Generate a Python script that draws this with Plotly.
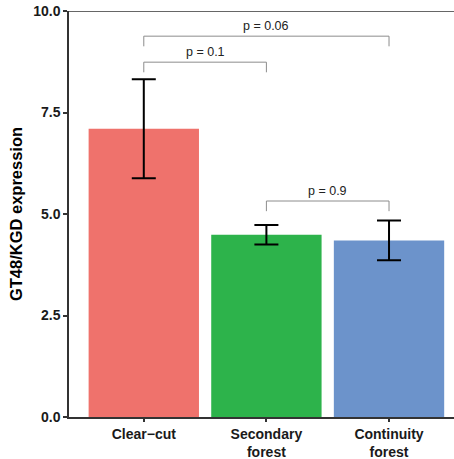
import plotly.graph_objects as go

# Group means and error bar half-widths
groups = ["Clear\u2212cut", "Secondary<br>forest", "Continuity<br>forest"]
means = [7.10, 4.49, 4.35]
errors = [1.22, 0.24, 0.49]
colors = ["#EF726C", "#2DB34B", "#6C93CB"]

# Pairwise comparisons: (left group index, right group index, bracket height, label)
comparisons = [
    (0, 2, 9.38, "p = 0.06"),
    (0, 1, 8.74, "p = 0.1"),
    (1, 2, 5.32, "p = 0.9"),
]
tick_drop = 0.25

yticks = [0.0, 2.5, 5.0, 7.5, 10.0]
ytick_text = ["0.0", "2.5", "5.0", "7.5", "10.0"]

xpos = list(range(len(groups)))

fig = go.Figure()
fig.add_trace(go.Bar(
    x=xpos, y=means, width=0.9,
    marker=dict(color=colors, line=dict(width=0)),
    error_y=dict(type="data", array=errors, visible=True,
                 color="black", thickness=2, width=12),
    showlegend=False,
))

for left, right, h, label in comparisons:
    fig.add_trace(go.Scatter(
        x=[xpos[left], xpos[left], xpos[right], xpos[right]],
        y=[h - tick_drop, h, h, h - tick_drop],
        mode="lines", line=dict(color="#8C8C8C", width=1),
        hoverinfo="skip", showlegend=False,
    ))
    fig.add_annotation(
        x=(xpos[left] + xpos[right]) / 2, y=h, text=label,
        showarrow=False, yanchor="bottom", yshift=1,
        font=dict(family="Liberation Sans, Arial", size=12.5, color="#222222"),
    )

# Top border line of the panel
fig.add_shape(type="line", xref="paper", yref="y", x0=0, x1=1, y0=10, y1=10,
              line=dict(color="#333333", width=1.5))

fig.update_layout(
    width=454, height=459,
    margin=dict(l=69, r=0, t=11, b=42),
    paper_bgcolor="white", plot_bgcolor="white",
    bargap=0.1,
    font=dict(family="Liberation Sans, Arial", color="black"),
)
fig.update_xaxes(
    range=[-0.61, 2.53], tickvals=xpos, ticktext=groups,
    showline=True, linecolor="#333333", linewidth=1.5,
    ticks="outside", ticklen=3, tickcolor="#333333", tickwidth=1.5,
    tickfont=dict(size=14, family="Liberation Sans, Arial", weight="bold", color="#1A1A1A"),
    showgrid=False, zeroline=False, automargin=False,
)
fig.update_yaxes(
    range=[0, 10], tickvals=yticks, ticktext=ytick_text,
    showline=True, linecolor="#333333", linewidth=1.5,
    ticks="outside", ticklen=4, tickcolor="#333333", tickwidth=1.5,
    tickfont=dict(size=14, family="Liberation Sans, Arial", weight="bold", color="#1A1A1A"),
    showgrid=False, zeroline=False,
    title=dict(text="GT48/KGD expression", standoff=6,
               font=dict(size=16.5, family="Liberation Sans, Arial", weight="bold")),
)

fig.write_html("out.html")
